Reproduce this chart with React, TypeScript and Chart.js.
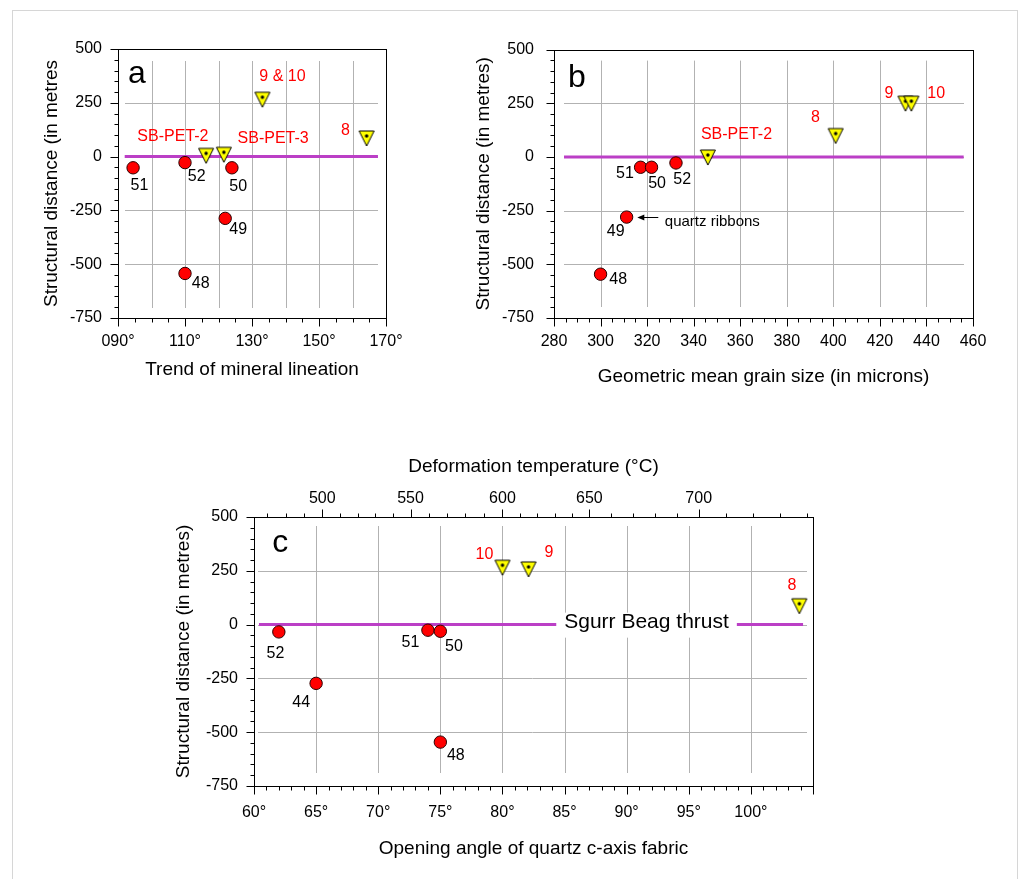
import React, { useEffect, useRef } from 'react';
import { Chart, registerables } from 'chart.js';

Chart.register(...registerables);

const FONT = '"Liberation Sans", Arial, Helvetica, sans-serif';

// ---------- Panel a : trend of mineral lineation ----------
const aCircleTrend = [94.5, 110, 124, 122, 110];
const aCircleDist = [-52, -28, -52, -287, -543];
const aCircleSample = ['51', '52', '50', '49', '48'];
const aTriTrend = [116.3, 121.6, 133.1, 164.2];
const aTriDist = [15, 20, 276, 96];
const aTriSample = ['SB-PET-2', 'SB-PET-3', '9 & 10', '8'];
const aThrustTrend = [92, 167.6];

// ---------- Panel b : geometric mean grain size ----------
const bCircleGrain = [317.2, 321.9, 332.4, 311.2, 300];
const bCircleDist = [-48, -48, -28, -280, -546];
const bCircleSample = ['51', '50', '52', '49', '48'];
const bTriGrain = [346.1, 401, 431, 433.5];
const bTriDist = [9, 109, 260, 260];
const bTriSample = ['SB-PET-2', '8', '9', '10'];
const bThrustGrain = [284.3, 456];

// ---------- Panel c : opening angle of quartz c-axis fabric ----------
const cCircleAngle = [62, 74, 75, 65, 75];
const cCircleDist = [-34, -26, -31, -273, -546];
const cCircleSample = ['52', '51', '50', '44', '48'];
const cTriAngle = [80, 82.1, 103.9];
const cTriDist = [276, 268, 97];
const cTriSample = ['10', '9', '8'];
const cThrustAngle = [60.4, 104.2];

// deformation temperature axis (top of panel c)
const tempLabels = [500, 550, 600, 650, 700];
const tempLabelAngle = [65.5, 72.6, 80.0, 87.0, 95.8];
const tempAnchorC = [470, 500, 550, 600, 650, 700, 740];
const tempAnchorAngle = [61.06, 65.52, 72.56, 80.0, 87.0, 95.8, 104.5];

const distTicks = [500, 250, 0, -250, -500, -750];
const thrustDist = 0;

type Note = {
  t: string; x: number; y: number; color?: string; size?: number;
  align?: CanvasTextAlign; base?: CanvasTextBaseline; box?: boolean;
};
type TickSet = { axis: string; side: 'left' | 'bottom' | 'top'; major: number[]; minor: number[] };
type Spec = {
  xGrid: number[]; yGrid: number[]; inset: number[];
  ticks: TickSet[]; notes: Note[];
  arrows?: { x1: number; x2: number; y: number }[];
};

const RED = '#ff0000';
const PURPLE = '#bb3fc6';

function range(a: number, b: number, s: number) {
  const out: number[] = [];
  for (let v = a; v <= b + 1e-9; v += s) out.push(Math.round(v * 1000) / 1000);
  return out;
}
function minorsOf(a: number, b: number, s: number, majors: number[]) {
  return range(a, b, s).filter((v) => !majors.some((m) => Math.abs(m - v) < 1e-6));
}
function tempToAngle(t: number) {
  for (let i = 0; i < tempAnchorC.length - 1; i++) {
    const t0 = tempAnchorC[i], t1 = tempAnchorC[i + 1];
    if (t >= t0 && t <= t1) {
      const f = (t - t0) / (t1 - t0);
      return tempAnchorAngle[i] + f * (tempAnchorAngle[i + 1] - tempAnchorAngle[i]);
    }
  }
  return tempAnchorAngle[tempAnchorAngle.length - 1];
}

function makeTriangleMarker() {
  const c = document.createElement('canvas');
  c.width = 24; c.height = 24;
  const g = c.getContext('2d')!;
  const cx = 12, cy = 12;
  g.beginPath();
  g.moveTo(cx - 7.5, cy - 5);
  g.lineTo(cx + 7.5, cy - 5);
  g.lineTo(cx, cy + 10);
  g.closePath();
  g.fillStyle = '#ffff00';
  g.fill();
  g.lineJoin = 'round';
  g.lineWidth = 1;
  g.strokeStyle = '#000';
  g.stroke();
  g.beginPath();
  g.arc(cx, cy, 1.7, 0, Math.PI * 2);
  g.fillStyle = '#000';
  g.fill();
  return c;
}

function makeDecor(spec: Spec) {
  return {
    id: 'decor',
    beforeDatasetsDraw(chart: any) {
      const { ctx, chartArea: ca, scales } = chart;
      ctx.save();
      ctx.strokeStyle = '#b2b2b2';
      ctx.lineWidth = 1;
      ctx.beginPath();
      spec.xGrid.forEach((v) => {
        const p = Math.round(scales.x.getPixelForValue(v)) + 0.5;
        ctx.moveTo(p, ca.top + spec.inset[0]);
        ctx.lineTo(p, ca.bottom - spec.inset[2]);
      });
      spec.yGrid.forEach((v) => {
        const p = Math.round(scales.y.getPixelForValue(v)) + 0.5;
        ctx.moveTo(ca.left + spec.inset[3], p);
        ctx.lineTo(ca.right - spec.inset[1], p);
      });
      ctx.stroke();
      ctx.restore();
    },
    afterDraw(chart: any) {
      const { ctx, chartArea: ca, scales } = chart;
      ctx.save();
      // frame
      ctx.strokeStyle = '#000';
      ctx.lineWidth = 1;
      const L = Math.round(ca.left) + 0.5, T = Math.round(ca.top) + 0.5;
      const R = Math.round(ca.right) + 0.5, B = Math.round(ca.bottom) + 0.5;
      ctx.strokeRect(L, T, R - L, B - T);
      // tick marks
      for (const tk of spec.ticks) {
        const s = scales[tk.axis];
        const draw = (v: number, len: number) => {
          const p = Math.round(s.getPixelForValue(v)) + 0.5;
          ctx.beginPath();
          if (tk.side === 'left') { ctx.moveTo(L, p); ctx.lineTo(L - len, p); }
          else if (tk.side === 'bottom') { ctx.moveTo(p, B); ctx.lineTo(p, B + len); }
          else { ctx.moveTo(p, T); ctx.lineTo(p, T - len); }
          ctx.stroke();
        };
        tk.major.forEach((v) => draw(v, 8));
        tk.minor.forEach((v) => draw(v, 4));
      }
      // arrows
      (spec.arrows || []).forEach((a) => {
        const x1 = scales.x.getPixelForValue(a.x1);
        const x2 = scales.x.getPixelForValue(a.x2);
        const y = Math.round(scales.y.getPixelForValue(a.y)) + 0.5;
        ctx.beginPath();
        ctx.moveTo(x1, y);
        ctx.lineTo(x2 + 4, y);
        ctx.stroke();
        const dir = x2 < x1 ? 1 : -1;
        ctx.beginPath();
        ctx.moveTo(x2, y);
        ctx.lineTo(x2 + dir * 7, y - 3);
        ctx.lineTo(x2 + dir * 7, y + 3);
        ctx.closePath();
        ctx.fillStyle = '#000';
        ctx.fill();
      });
      // notes
      spec.notes.forEach((n) => {
        const px = scales.x.getPixelForValue(n.x);
        const py = scales.y.getPixelForValue(n.y);
        const size = n.size || 16;
        ctx.font = `${size}px ${FONT}`;
        ctx.textAlign = n.align || 'center';
        ctx.textBaseline = n.base || 'middle';
        if (n.box) {
          const w = ctx.measureText(n.t).width;
          ctx.fillStyle = '#fff';
          ctx.fillRect(px - w / 2 - 8, py - 10, w + 16, 25);
        }
        ctx.fillStyle = n.color || '#000';
        ctx.fillText(n.t, px, py);
      });
      ctx.restore();
    },
  };
}

const tickFont = { family: FONT, size: 16 };
const titleFont = { family: FONT, size: 19 };
const noGrid = { display: false, drawTicks: false, tickLength: 0 };

function yScale(width: number, pad: number, title: string) {
  return {
    type: 'linear', position: 'left', min: -750, max: 500,
    afterFit: (s: any) => { s.width = width; },
    grid: noGrid, border: { display: false },
    ticks: { stepSize: 250, font: tickFont, color: '#000', padding: pad },
    title: { display: true, text: title, font: titleFont, color: '#000', padding: { top: 0, bottom: 0 } },
  };
}
function xScale(min: number, max: number, step: number, height: number, pad: number, titlePad: number, title: string, fmt: (v: number) => string) {
  return {
    type: 'linear', position: 'bottom', min, max,
    afterFit: (s: any) => { s.height = height; },
    grid: noGrid, border: { display: false },
    ticks: { stepSize: step, font: tickFont, color: '#000', padding: pad, maxRotation: 0, autoSkip: false, callback: (v: any) => fmt(Number(v)) },
    title: { display: true, text: title, font: titleFont, color: '#000', padding: { top: 0, bottom: titlePad } },
  };
}

function datasets(cx: number[], cy: number[], tx: number[], ty: number[], thrust: number[], tri: HTMLCanvasElement) {
  return [
    {
      type: 'scatter', label: 'samples', order: 1,
      data: cx.map((x, i) => ({ x, y: cy[i] })),
      pointStyle: 'circle', pointRadius: 6.2, pointBackgroundColor: RED,
      pointBorderColor: '#2a0000', pointBorderWidth: 1,
    },
    {
      type: 'scatter', label: 'thermometry', order: 2,
      data: tx.map((x, i) => ({ x, y: ty[i] })),
      pointStyle: tri, pointRadius: 8,
    },
    {
      type: 'line', label: 'Sgurr Beag thrust', order: 3,
      data: thrust.map((x) => ({ x, y: thrustDist })),
      borderColor: PURPLE, borderWidth: 3, pointRadius: 0, showLine: true, fill: false,
    },
  ];
}

function baseOptions(padding: any, scales: any) {
  return {
    responsive: false, animation: false, devicePixelRatio: 1,
    layout: { padding },
    plugins: { legend: { display: false }, tooltip: { enabled: false } },
    scales,
  };
}

const yMinor = minorsOf(-750, 500, 50, distTicks);

function buildA(tri: HTMLCanvasElement) {
  const xMaj = range(90, 170, 20);
  const spec: Spec = {
    xGrid: range(100, 160, 10), yGrid: [250, 0, -250, -500], inset: [12, 8, 10, 7],
    ticks: [
      { axis: 'x', side: 'bottom', major: xMaj, minor: minorsOf(90, 170, 5, xMaj) },
      { axis: 'y', side: 'left', major: distTicks, minor: yMinor },
    ],
    notes: [
      { t: 'a', x: 93, y: 342, size: 32, align: 'left', base: 'alphabetic' },
      { t: aTriSample[2], x: 139.1, y: 374, color: RED },
      { t: aTriSample[3], x: 157.9, y: 120, color: RED },
      { t: aTriSample[0], x: 106.4, y: 92, color: RED },
      { t: aTriSample[1], x: 136.3, y: 82, color: RED },
      { t: aCircleSample[0], x: 96.4, y: -135 },
      { t: aCircleSample[1], x: 113.5, y: -93 },
      { t: aCircleSample[2], x: 125.9, y: -140 },
      { t: aCircleSample[3], x: 125.9, y: -341 },
      { t: aCircleSample[4], x: 114.7, y: -592 },
    ],
  };
  return {
    type: 'scatter',
    data: { datasets: datasets(aCircleTrend, aCircleDist, aTriTrend, aTriDist, aThrustTrend, tri) },
    options: baseOptions({ left: 26, top: 29, right: 48, bottom: 8 }, {
      x: xScale(90, 170, 20, 74, 14, 11, 'Trend of mineral lineation', (v) => (v < 100 ? '0' + v : String(v)) + '°'),
      y: yScale(78, 16, 'Structural distance (in metres'),
    }),
    plugins: [makeDecor(spec)],
  };
}

function buildB(tri: HTMLCanvasElement) {
  const xMaj = range(280, 460, 20);
  const spec: Spec = {
    xGrid: range(300, 440, 20), yGrid: [250, 0, -250, -500], inset: [11, 9, 11, 10],
    ticks: [
      { axis: 'x', side: 'bottom', major: xMaj, minor: minorsOf(280, 460, 5, xMaj) },
      { axis: 'y', side: 'left', major: distTicks, minor: yMinor },
    ],
    notes: [
      { t: 'b', x: 286, y: 328, size: 32, align: 'left', base: 'alphabetic' },
      { t: bTriSample[0], x: 358.4, y: 102, color: RED },
      { t: bTriSample[1], x: 392.3, y: 183, color: RED },
      { t: bTriSample[2], x: 423.9, y: 296, color: RED },
      { t: bTriSample[3], x: 444.2, y: 294, color: RED },
      { t: bCircleSample[0], x: 310.5, y: -79 },
      { t: bCircleSample[1], x: 324.3, y: -125 },
      { t: bCircleSample[2], x: 335.1, y: -105 },
      { t: bCircleSample[3], x: 306.5, y: -346 },
      { t: bCircleSample[4], x: 307.6, y: -569 },
      { t: 'quartz ribbons', x: 327.6, y: -303, size: 15, align: 'left' },
    ],
    arrows: [{ x1: 324.8, x2: 315.8, y: -280 }],
  };
  return {
    type: 'scatter',
    data: { datasets: datasets(bCircleGrain, bCircleDist, bTriGrain, bTriDist, bThrustGrain, tri) },
    options: baseOptions({ left: 27, top: 28, right: 42, bottom: 2 }, {
      x: xScale(280, 460, 20, 80, 14, 10, 'Geometric mean grain size (in microns)', (v) => String(v)),
      y: yScale(82, 20, 'Structural distance (in metres)'),
    }),
    plugins: [makeDecor(spec)],
  };
}

function buildC(tri: HTMLCanvasElement) {
  const xMaj = range(60, 105, 5);
  const tempMinorAngles = range(470, 740, 10)
    .filter((t) => tempLabels.indexOf(t) < 0)
    .map(tempToAngle);
  const spec: Spec = {
    xGrid: range(65, 100, 5), yGrid: [250, 0, -250, -500], inset: [9, 6, 13, 4],
    ticks: [
      { axis: 'x', side: 'bottom', major: xMaj, minor: minorsOf(60, 105, 1, xMaj) },
      { axis: 'x2', side: 'top', major: tempLabelAngle, minor: tempMinorAngles },
      { axis: 'y', side: 'left', major: distTicks, minor: yMinor },
    ],
    notes: [
      { t: 'c', x: 61.46, y: 339, size: 32, align: 'left', base: 'alphabetic' },
      { t: cTriSample[0], x: 78.55, y: 327, color: RED },
      { t: cTriSample[1], x: 83.75, y: 334, color: RED },
      { t: cTriSample[2], x: 103.3, y: 183, color: RED },
      { t: cCircleSample[0], x: 61.73, y: -135 },
      { t: cCircleSample[1], x: 72.6, y: -84 },
      { t: cCircleSample[2], x: 76.1, y: -104 },
      { t: cCircleSample[3], x: 63.8, y: -362 },
      { t: cCircleSample[4], x: 76.25, y: -610 },
      { t: 'Sgurr Beag thrust', x: 91.6, y: 9, size: 21, box: true },
    ],
  };
  const x2 = {
    type: 'linear', position: 'top', min: 60, max: 105,
    afterFit: (s: any) => { s.height = 67; },
    afterBuildTicks: (s: any) => { s.ticks = tempLabelAngle.map((v) => ({ value: v })); },
    grid: noGrid, border: { display: false },
    ticks: { font: tickFont, color: '#000', padding: 9, maxRotation: 0, autoSkip: false, callback: (_v: any, i: number) => String(tempLabels[i]) },
    title: { display: true, text: 'Deformation temperature (°C)', font: titleFont, color: '#000', padding: { top: 5, bottom: 0 } },
  };
  return {
    type: 'scatter',
    data: { datasets: datasets(cCircleAngle, cCircleDist, cTriAngle, cTriDist, cThrustAngle, tri) },
    options: baseOptions({ left: 22, top: 30, right: 57, bottom: 2 }, {
      x: xScale(60, 105, 5, 82, 17, 8, 'Opening angle of quartz c-axis fabric', (v) => (v >= 105 ? '' : v + '°')),
      x2,
      y: yScale(82, 16, 'Structural distance (in metres)'),
    }),
    plugins: [makeDecor(spec)],
  };
}

function Panel(props: { left: number; top: number; width: number; height: number; build: (tri: HTMLCanvasElement) => any }) {
  const ref = useRef<HTMLCanvasElement>(null);
  useEffect(() => {
    const chart = new Chart(ref.current as HTMLCanvasElement, props.build(makeTriangleMarker()) as any);
    return () => chart.destroy();
  }, []);
  const { left, top, width, height } = props;
  return (
    <canvas
      ref={ref}
      width={width}
      height={height}
      style={{ position: 'absolute', left, top, width, height }}
    />
  );
}

export default function App() {
  return (
    <div style={{ position: 'fixed', left: 0, top: 0, width: 1019, height: 879, overflow: 'hidden', background: '#fff', fontFamily: FONT }}>
      <div style={{ position: 'absolute', left: 12, top: 10, width: 1004, height: 900, border: '1px solid #d6d6d6' }} />
      <Panel left={14} top={20} width={420} height={380} build={buildA} />
      <Panel left={445} top={20} width={570} height={380} build={buildB} />
      <Panel left={150} top={420} width={720} height={450} build={buildC} />
    </div>
  );
}
